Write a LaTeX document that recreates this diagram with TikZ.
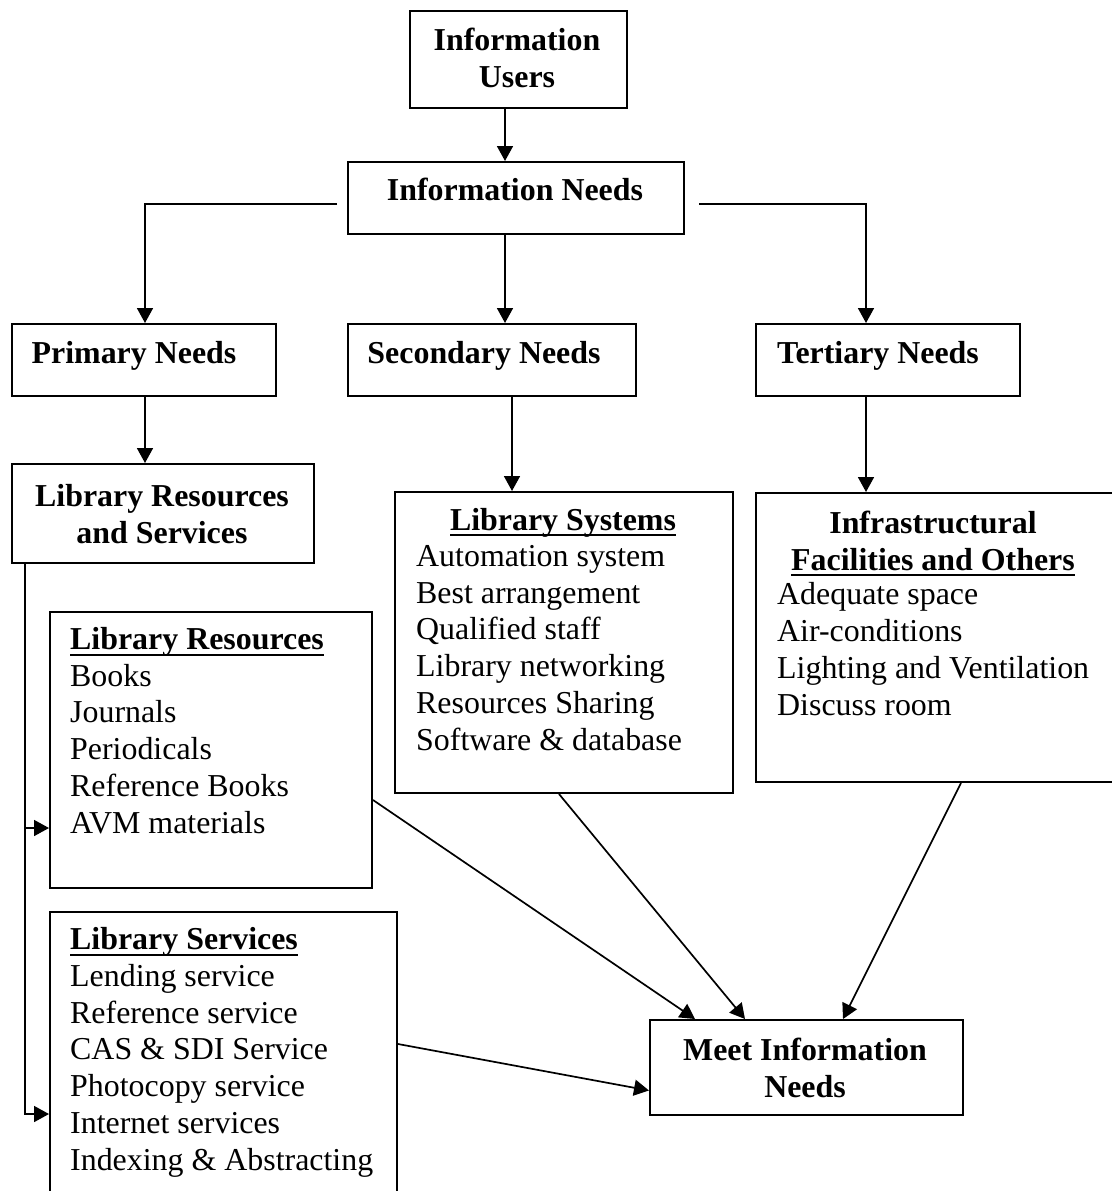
\documentclass[tikz,border=0pt]{standalone}
\usepackage{fontspec}
\setmainfont{Liberation Serif}
\usetikzlibrary{arrows.meta}
\newcommand{\wul}[1]{\setbox0\hbox{#1}\rlap{\rule[-6pt]{\wd0}{2pt}}\box0}
\begin{document}
\begin{tikzpicture}[x=1pt,y=-1pt,
  box/.style={draw, line width=2pt, inner sep=0pt, anchor=north west},
  txt/.style={inner sep=0pt, font=\fontsize{31.9}{36.7}\selectfont},
  bt/.style={txt, font=\fontsize{31.9}{36.7}\selectfont\bfseries, align=center, anchor=base},
  lt/.style={txt, align=left, anchor=base west},
  con/.style={line width=1.7pt},
  arr/.style={con, -{Triangle[length=15pt,width=16pt]}}]
\useasboundingbox[fill=white] (0,0) rectangle (1111,1191);

% boxes
\node[box, minimum width=217pt, minimum height=97pt]  (users)     at (409,10)   {};
\node[box, minimum width=336pt, minimum height=72pt]  (needs)     at (347,161)  {};
\node[box, minimum width=264pt, minimum height=72pt]  (primary)   at (11,323)   {};
\node[box, minimum width=288pt, minimum height=72pt]  (secondary) at (347,323)  {};
\node[box, minimum width=264pt, minimum height=72pt]  (tertiary)  at (755,323)  {};
\node[box, minimum width=302pt, minimum height=99pt]  (librs)     at (11,463)   {};
\node[box, minimum width=338pt, minimum height=301pt] (libsys)    at (394,491)  {};
\node[box, minimum width=360pt, minimum height=289pt] (infra)     at (755,492)  {};
\node[box, minimum width=322pt, minimum height=276pt] (libres)    at (49,611)   {};
\node[box, minimum width=347pt, minimum height=284pt] (libserv)   at (49,911)   {};
\node[box, minimum width=313pt, minimum height=95pt]  (meet)      at (649,1019) {};

% texts (base anchor = baseline of the last line)
\node[bt] (users-t)     at (517,87)  {Information\\Users};
\node[bt] (needs-t)     at (515,200) {Information Needs};
\node[bt] (primary-t)   at (134,363) {Primary Needs};
\node[bt] (secondary-t) at (484,363) {Secondary Needs};
\node[bt] (tertiary-t)  at (878,363) {Tertiary Needs};
\node[bt] (librs-t)     at (162,543) {Library Resources\\and Services};
\node[bt] (meet-t)      at (805,1097) {Meet Information\\Needs};

\node[bt] (libsys-h) at (563,530) {\wul{Library Systems}};
\node[lt] (libsys-t) at (416,750) {Automation system\\Best arrangement\\Qualified staff\\Library networking\\Resources Sharing\\Software \& database};

\node[bt] (infra-h) at (933,570) {Infrastructural\\\wul{Facilities and Others}};
\node[lt] (infra-t) at (777,715) {Adequate space\\Air-conditions\\Lighting and Ventilation\\Discuss room};

\node[lt] (libres-t) at (70,833) {\textbf{\wul{Library Resources}}\\Books\\Journals\\Periodicals\\Reference Books\\AVM materials};

\node[lt] (libserv-t) at (70,1170) {\textbf{\wul{Library Services}}\\Lending service\\Reference service\\CAS \& SDI Service\\Photocopy service\\Internet services\\Indexing \& Abstracting};

% connectors
\draw[arr] ([xshift=96]users.south west) -- ([xshift=158]needs.north west);
\draw[arr] ([xshift=-10,yshift=-6]needs.west) -| ([xshift=134]primary.north west);
\draw[arr] ([xshift=14,yshift=-6]needs.east) -| ([xshift=111]tertiary.north west);
\draw[arr] ([xshift=158]needs.south west) -- ([xshift=158]secondary.north west);
\draw[arr] ([xshift=134]primary.south west) -- ([xshift=134]librs.north west);
\draw[arr] ([xshift=165]secondary.south west) -- ([xshift=118]libsys.north west);
\draw[arr] ([xshift=111]tertiary.south west) -- ([xshift=111]infra.north west);
\draw[arr] ([xshift=14]librs.south west) |- ([yshift=-78]libres.west);
\draw[arr] ([xshift=14]librs.south west) |- ([yshift=-60]libserv.west);
\draw[arr] ([yshift=-50]libres.east) -- ([xshift=46]meet.north west);
\draw[arr] ([xshift=165]libsys.south west) -- ([xshift=96]meet.north west);
\draw[arr] ([xshift=206]infra.south west) -- ([xshift=194]meet.north west);
\draw[arr] ([yshift=10]libserv.east) -- ([yshift=-23]meet.west);
\end{tikzpicture}
\end{document}
